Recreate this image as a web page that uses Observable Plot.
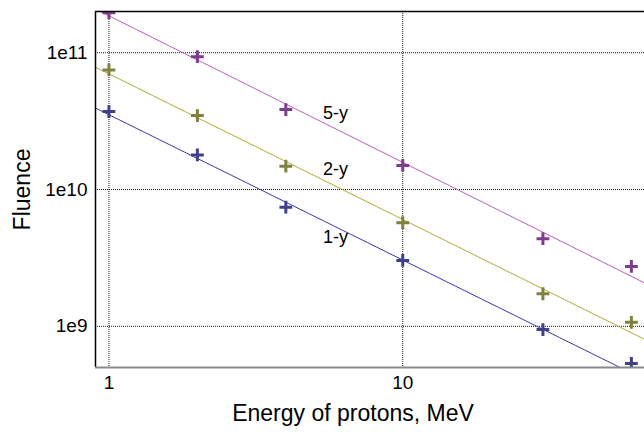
<!DOCTYPE html>
<html>
<head>
<meta charset="utf-8">
<script src="https://cdn.jsdelivr.net/npm/d3@7"></script>
<script src="https://cdn.jsdelivr.net/npm/@observablehq/plot@0.6"></script>
<style>
  html, body { margin: 0; padding: 0; background: #fff; }
</style>
</head>
<body>
<div id="chart"></div>
<script>
// Data
const energies = [1, 2, 4, 10, 30, 60];
const series = ["1-y", "2-y", "5-y"];
const fluence1y = [3.71e10, 1.79e10, 7.43e9, 3.03e9, 9.46e8, 5.35e8];
const fluence2y = [7.48e10, 3.47e10, 1.48e10, 5.72e9, 1.73e9, 1.07e9];
const fluence5y = [1.96e11, 9.35e10, 3.84e10, 1.50e10, 4.37e9, 2.74e9];
// power-law fit lines: F = A * E^b
const fitA = [3.52e10, 7.0e10, 1.86e11];
const fitB = [-1.062, -1.064, -1.071];
const labelPos = [[5.35, 4.47e9], [5.35, 1.40e10], [5.35, 3.6e10]];
const xTicks = [1, 10];
const yTicks = [1e9, 1e10, 1e11];
const xDomain = [0.9, 66.5];
const yDomain = [5e8, 2e11];

const markerColors = ["#40408a", "#80803f", "#7d3d8c"];
const lineColors = ["#2a2aa8", "#a8a828", "#c050c0"];

const allFluence = [fluence1y, fluence2y, fluence5y];
const points = [];
series.forEach((s, i) => energies.forEach((e, j) => points.push({series: s, e, f: allFluence[i][j]})));
const fits = [];
series.forEach((s, i) => xDomain.forEach(e => fits.push({series: s, e, f: fitA[i] * Math.pow(e, fitB[i])})));
const labels = series.map((s, i) => ({series: s, e: labelPos[i][0], f: labelPos[i][1]}));

const chart = Plot.plot({
  width: 644,
  height: 432,
  marginLeft: 95,
  marginTop: 11,
  marginRight: 0,
  marginBottom: 65,
  style: {fontFamily: "'Liberation Sans', Arial, sans-serif", fontSize: "19px", background: "#fff", color: "#000"},
  x: {type: "log", domain: xDomain},
  y: {type: "log", domain: yDomain},
  color: {domain: series, range: markerColors},
  marks: [
    Plot.gridX(xTicks, {stroke: "#000", strokeOpacity: 0.9, strokeDasharray: "1,1"}),
    Plot.gridY(yTicks, {stroke: "#000", strokeOpacity: 0.9, strokeDasharray: "1,1"}),
    Plot.line(fits, {x: "e", y: "f", z: "series", stroke: d => lineColors[series.indexOf(d.series)], strokeWidth: 1, strokeDasharray: "1.2,0.8", clip: true}),
    Plot.dot(points, {x: "e", y: "f", fill: null, stroke: "series", symbol: "plus", r: 4.2, strokeWidth: 3, clip: true}),
    Plot.text(labels, {x: "e", y: "f", text: "series", textAnchor: "start", fontSize: 18, fill: "#000"}),
    Plot.ruleY([yDomain[1]], {stroke: "#000", strokeWidth: 1.5}),
    Plot.ruleX([xDomain[0]], {stroke: "#000", strokeWidth: 1.5}),
    Plot.ruleY([yDomain[0]], {stroke: "#888", strokeWidth: 2}),
    Plot.axisX({ticks: xTicks, tickFormat: d => String(d), tickSize: 0, tickPadding: 8, label: null, fontSize: 19}),
    Plot.axisY({ticks: yTicks, tickFormat: d => "1e" + Math.round(Math.log10(d)), tickSize: 0, tickPadding: 8, label: null, fontSize: 19}),
    Plot.text(["Fluence"], {text: d => d, frameAnchor: "left", dx: -73, rotate: -90, fontSize: 23, lineAnchor: "middle", textAnchor: "middle"}),
    Plot.text(["Energy of protons, MeV"], {text: d => d, frameAnchor: "bottom", dx: -17, dy: 46, fontSize: 23, lineAnchor: "middle", textAnchor: "middle"})
  ]
});
document.getElementById("chart").appendChild(chart);
</script>
</body>
</html>
